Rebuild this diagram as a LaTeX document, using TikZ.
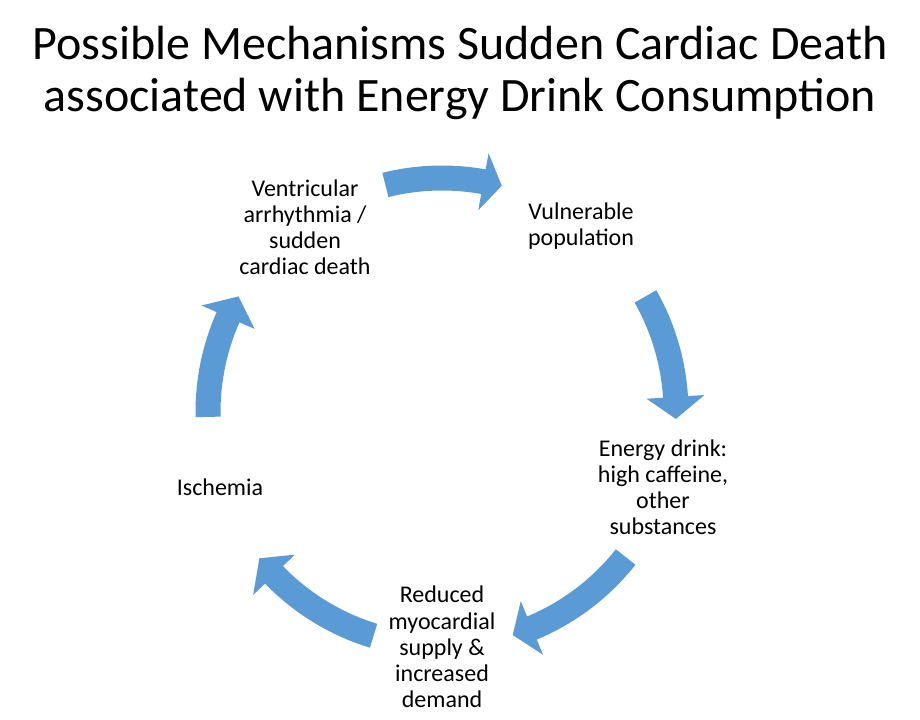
\documentclass[tikz,border=0pt]{standalone}
\usepackage{fontspec}
\setmainfont{Carlito}
\definecolor{cycblue}{HTML}{5B9BD5}
\tikzset{
  lbl/.style={align=center, font=\fontsize{18}{19.6}\selectfont, inner sep=0pt, text=black},
  ttl/.style={align=center, font=\fontsize{36}{38.6}\selectfont, inner sep=0pt, text=black},
  arrowfill/.style={fill=cycblue, draw=none},
}
% #1 tail angle, #2 head base angle, #3 tip angle (screen angles, clockwise)
\newcommand{\cyclearrowpath}[3]{%
  \fill[arrowfill] plot[domain=#1:#2,samples=30] (\x:246.5) -- (#2:263) -- (#3:234)
    -- (#2:205) -- plot[domain=#2:#1,samples=30] (\x:221.5) -- cycle;%
}
\begin{document}
\begin{tikzpicture}[x=0.75pt,y=-0.75pt]
\useasboundingbox (0,0) rectangle (920,720);
\fill[white] (0,0) rectangle (920,720);
\node[ttl] (title) at (460,73) {Possible Mechanisms Sudden Cardiac Death\\associated with Energy Drink Consumption};
\node[lbl] (vuln) at (581,226) {Vulnerable\\population};
\node[lbl] (energy) at (663,487) {Energy drink:\\high caffeine,\\other\\substances};
\node[lbl] (reduced) at (442,647) {Reduced\\myocardial\\supply \&\\increased\\demand};
\node[lbl] (isch) at (220,487) {Ischemia};
\node[lbl] (vent) at (305,227) {Ventricular\\arrhythmia /\\sudden\\cardiac death};
\begin{scope}[shift={(442,412)}]
  \cyclearrowpath{-104}{-79.8}{-75.2}
  \cyclearrowpath{-29.6}{-3.7}{1.7}
  \cyclearrowpath{38.3}{67.4}{72.4}
  \cyclearrowpath{107}{135.9}{141.3}
  \cyclearrowpath{178.8}{203.9}{209.6}
\end{scope}
\end{tikzpicture}
\end{document}
